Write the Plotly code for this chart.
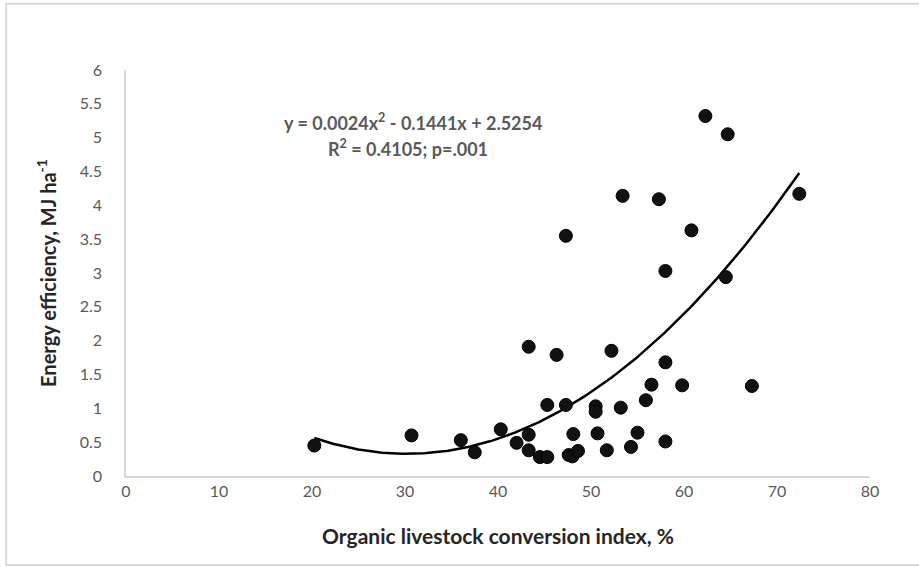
import numpy as np
import plotly.graph_objects as go

# Data
conversion_index = [20.25, 30.7, 36.0, 37.5, 40.3, 42.0, 43.3, 43.3, 44.5, 45.3,
                    43.3, 46.3, 52.2, 45.3, 47.3, 48.1, 47.6, 48.0, 48.6, 50.5,
                    50.5, 50.7, 51.7, 53.2, 54.3, 55.0, 55.9, 56.5, 58.0, 58.0,
                    59.8, 47.3, 53.4, 57.3, 60.8, 58.0, 62.3, 64.7, 64.5, 72.4,
                    67.3]
energy_efficiency = [0.45, 0.60, 0.53, 0.35, 0.69, 0.49, 0.61, 0.38, 0.28, 0.28,
                     1.91, 1.79, 1.85, 1.05, 1.05, 0.62, 0.31, 0.29, 0.37, 1.03,
                     0.95, 0.63, 0.38, 1.01, 0.43, 0.64, 1.12, 1.35, 1.68, 0.51,
                     1.34, 3.55, 4.14, 4.09, 3.63, 3.03, 5.32, 5.05, 2.94, 4.17,
                     1.33]
x_ticks = [0, 10, 20, 30, 40, 50, 60, 70, 80]
y_ticks = [0, 0.5, 1, 1.5, 2, 2.5, 3, 3.5, 4, 4.5, 5, 5.5, 6]
y_tick_labels = ["0", "0.5", "1", "1.5", "2", "2.5", "3", "3.5", "4", "4.5", "5", "5.5", "6"]

FONT = "Lato, 'Open Sans', sans-serif"

# polynomial (order 2) trendline fitted to the points
coef = np.polyfit(conversion_index, energy_efficiency, 2)
xt = np.linspace(min(conversion_index), max(conversion_index), 200)
yt = np.polyval(coef, xt)

fig = go.Figure()
fig.add_trace(go.Scatter(
    x=xt, y=yt, mode="lines",
    line=dict(color="#000000", width=2.5), hoverinfo="skip", showlegend=False))
fig.add_trace(go.Scatter(
    x=conversion_index, y=energy_efficiency, mode="markers",
    marker=dict(size=13, color="#111111", line=dict(color="#000000", width=1)),
    showlegend=False))

fig.update_layout(
    width=919, height=567,
    margin=dict(l=126, r=49, t=70, b=91),
    paper_bgcolor="white", plot_bgcolor="white",
    font=dict(family=FONT, size=16, color="#595959"),
    xaxis=dict(range=[0, 80], tickvals=x_ticks, showgrid=False, zeroline=False,
               showline=True, linecolor="#d9d9d9", linewidth=1.5, ticks="",
               tickfont=dict(size=16, color="#595959"),
               title=dict(text="<b>Organic livestock conversion index, %</b>",
                          font=dict(size=21, color="#262626"), standoff=30)),
    yaxis=dict(range=[0, 6], tickvals=y_ticks, ticktext=y_tick_labels,
               showgrid=False, zeroline=False,
               showline=True, linecolor="#d9d9d9", linewidth=1.5, ticks="outside",
               ticklen=19, tickcolor="rgba(0,0,0,0)",
               tickfont=dict(size=16, color="#595959"),
               title=dict(text="<b>Energy efficiency, MJ ha<sup>-1</sup></b>",
                          font=dict(size=20, color="#262626"), standoff=18)),
    shapes=[dict(type="rect", xref="paper", yref="paper",
                 x0=-0.161, x1=1.08, y0=-0.219, y1=1.163,
                 line=dict(color="#d9d9d9", width=2), fillcolor="rgba(0,0,0,0)",
                 layer="below")],
    annotations=[
        dict(text="<b>y = 0.0024x<sup>2</sup> - 0.1441x + 2.5254</b>",
             xref="paper", yref="paper", x=(413 - 126) / 744, y=(476 - 122) / 406,
             xanchor="center", yanchor="middle", showarrow=False,
             font=dict(size=18, color="#595959")),
        dict(text="<b>R<sup>2</sup> = 0.4105; p=.001</b>",
             xref="paper", yref="paper", x=(408 - 126) / 744, y=(476 - 148) / 406,
             xanchor="center", yanchor="middle", showarrow=False,
             font=dict(size=18, color="#595959")),
    ],
)

fig.write_html("out.html")
